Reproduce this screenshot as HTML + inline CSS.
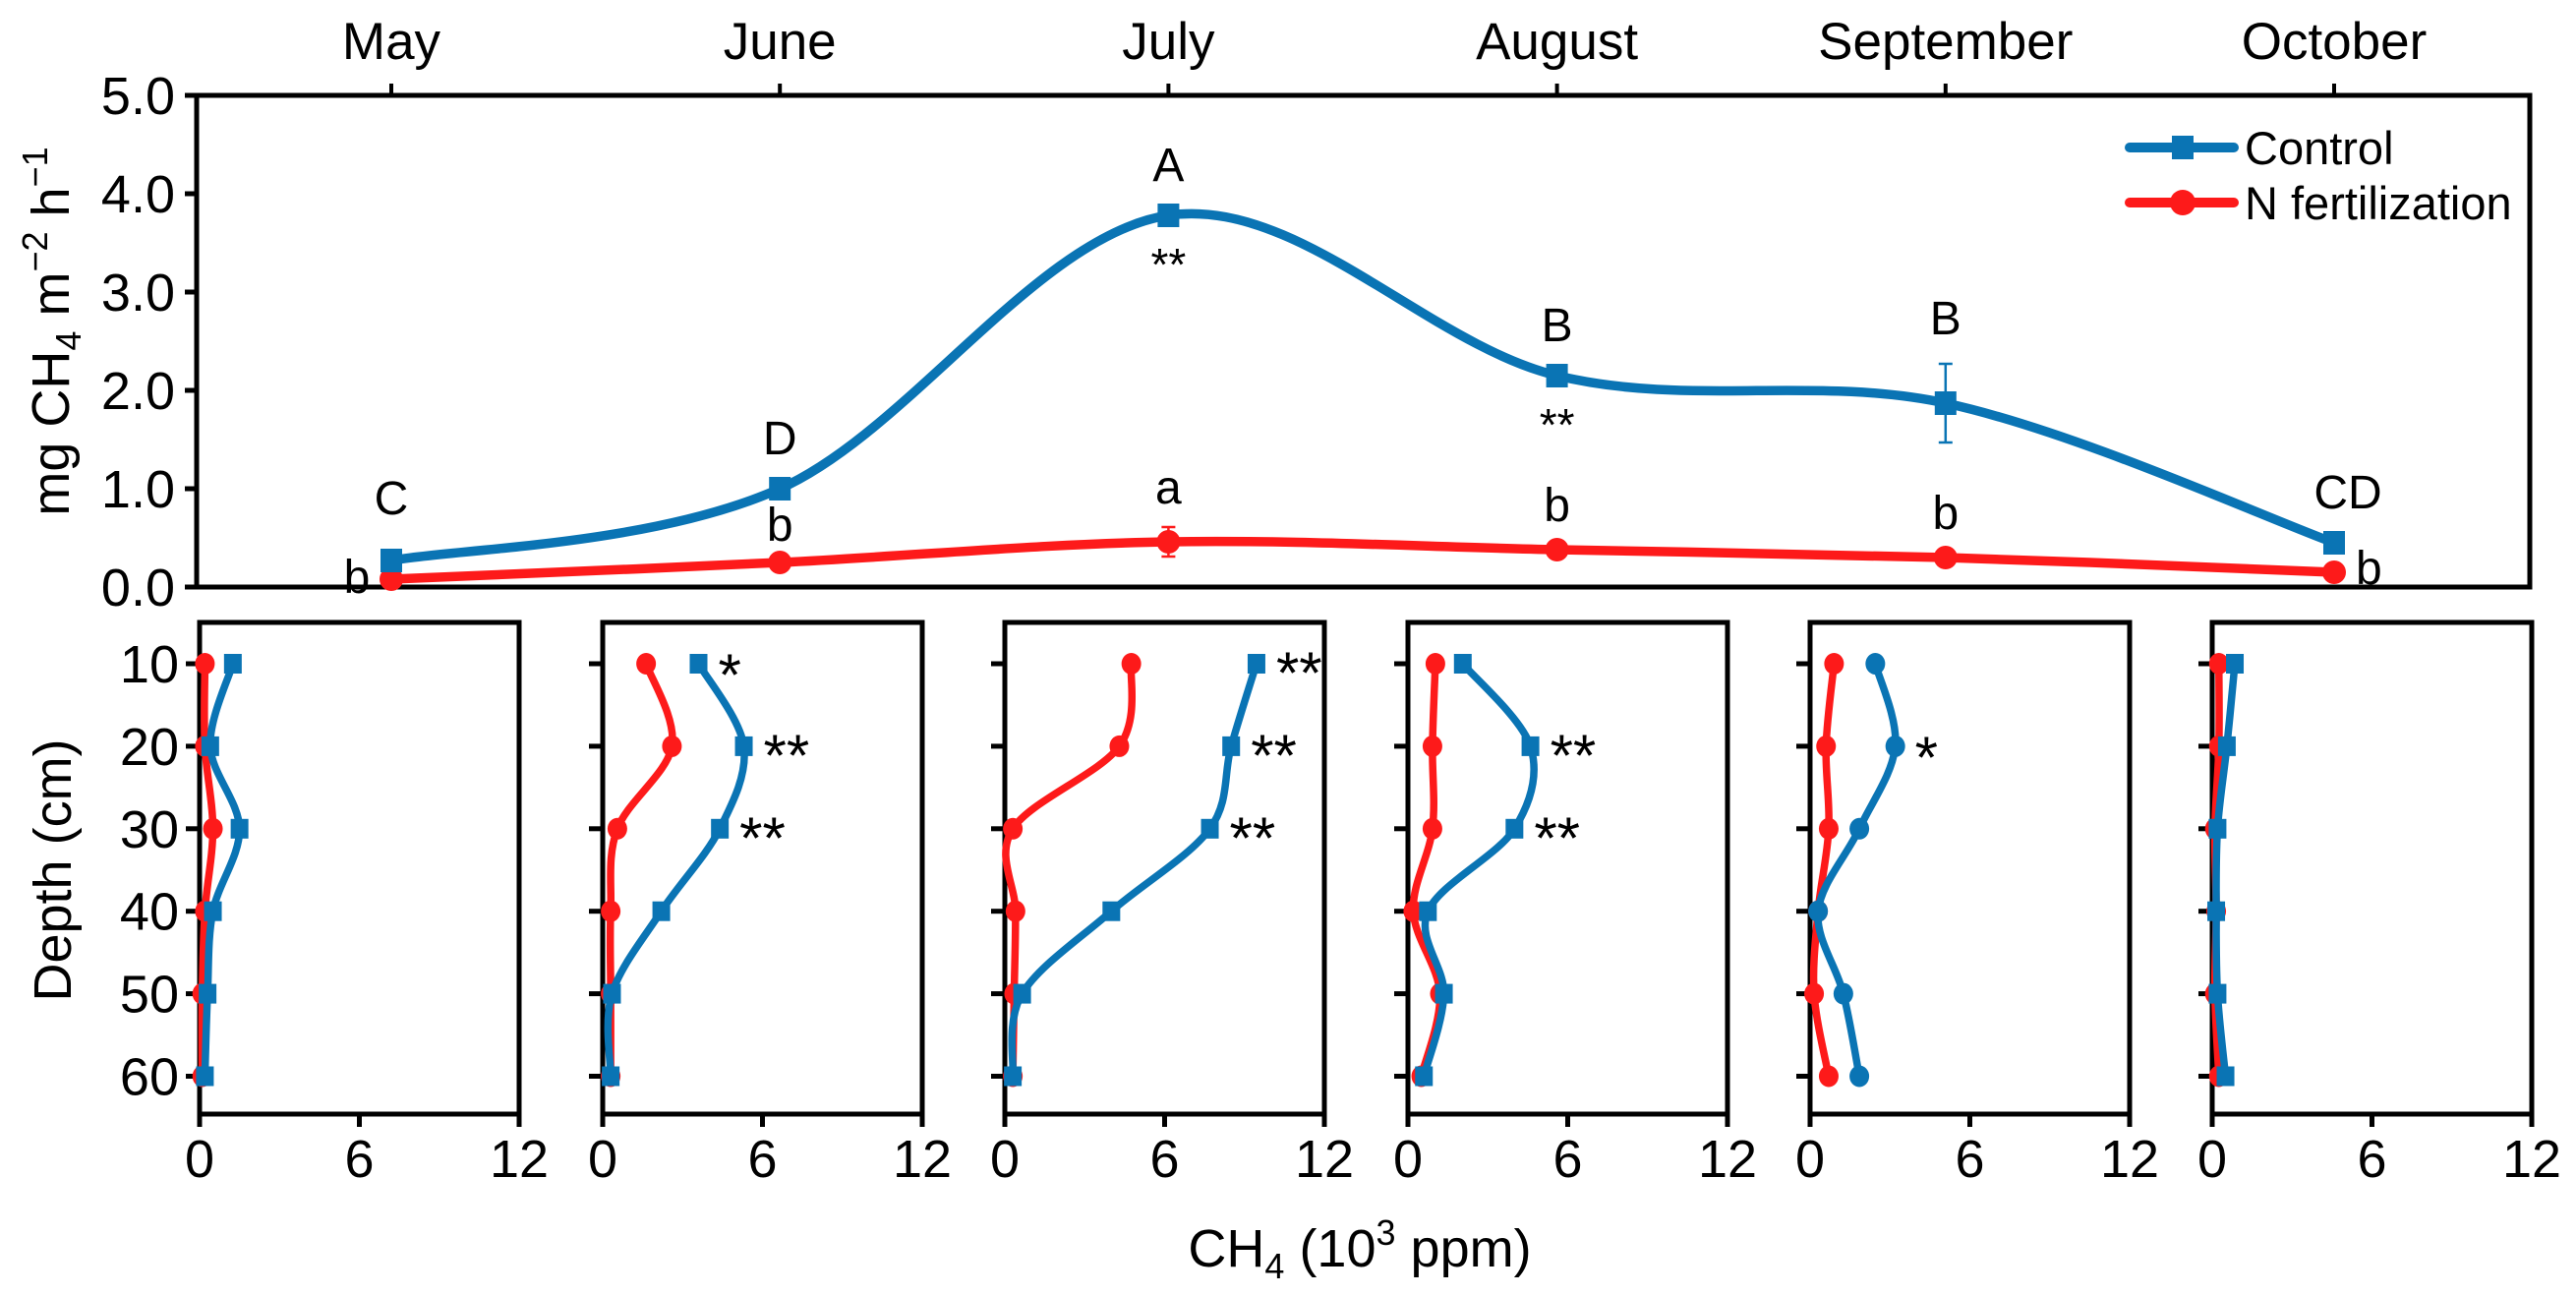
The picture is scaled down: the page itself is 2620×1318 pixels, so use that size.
<!DOCTYPE html>
<html><head><meta charset="utf-8">
<style>
html,body{margin:0;padding:0;background:#fff;}
svg{display:block;font-family:"Liberation Sans",Arial,sans-serif;}
</style></head>
<body>
<svg id="chart" width="2620" height="1318" viewBox="0 0 2620 1318" xmlns="http://www.w3.org/2000/svg"></svg>
<script>
// ---------- data ----------
const months = ["May","June","July","August","September","October"];
const fluxControl = [0.27, 1.0, 3.78, 2.15, 1.87, 0.45];
const fluxN = [0.08, 0.25, 0.46, 0.38, 0.30, 0.15];
const fluxControlErr = [0.03, 0.05, 0.05, 0.05, 0.40, 0.03];
const fluxNErr = [0.02, 0.05, 0.15, 0.03, 0.03, 0.02];
const lettersControl = ["C","D","A","B","B","CD"];
const lettersN = ["b","b","a","b","b","b"];
const sigFlux = ["","","**","**","",""];
const fluxTicks = ["0.0","1.0","2.0","3.0","4.0","5.0"];
const depths = [10,20,30,40,50,60];
const depthTicks = ["10","20","30","40","50","60"];
const concTicks = ["0","6","12"];
const profControl = [
  [1.25,0.4,1.5,0.5,0.3,0.2],
  [3.6,5.3,4.4,2.2,0.35,0.3],
  [9.45,8.5,7.7,4.0,0.65,0.3],
  [2.06,4.6,4.0,0.75,1.35,0.6],
  [2.45,3.2,1.85,0.3,1.25,1.85],
  [0.85,0.55,0.2,0.15,0.2,0.5]
];
const profN = [
  [0.2,0.2,0.5,0.2,0.1,0.1],
  [1.63,2.6,0.55,0.3,0.3,0.3],
  [4.75,4.3,0.3,0.4,0.35,0.3],
  [1.03,0.92,0.92,0.2,1.2,0.5],
  [0.9,0.6,0.7,0.3,0.15,0.7],
  [0.25,0.25,0.1,0.15,0.1,0.25]
];
const profSig = [
  ["","","","","",""],
  ["*","**","**","","",""],
  ["**","**","**","","",""],
  ["","**","**","","",""],
  ["","*","","","",""],
  ["","","","","",""]
];
// ---------- helpers ----------
const NS="http://www.w3.org/2000/svg";
const svg=document.getElementById('chart');
function mk(tag,attrs,parent){const e=document.createElementNS(NS,tag);for(const k in attrs)e.setAttribute(k,attrs[k]);(parent||svg).appendChild(e);return e;}
function txt(s,attrs,parent){const e=mk('text',attrs,parent);e.textContent=s;return e;}
function catmull(pts){let d=`M${pts[0][0]},${pts[0][1]}`;for(let i=0;i<pts.length-1;i++){const p0=pts[i-1]||pts[i],p1=pts[i],p2=pts[i+1],p3=pts[i+2]||p2;const c1=[p1[0]+(p2[0]-p0[0])/6,p1[1]+(p2[1]-p0[1])/6];const c2=[p2[0]-(p3[0]-p1[0])/6,p2[1]-(p3[1]-p1[1])/6];d+=` C${c1[0]},${c1[1]} ${c2[0]},${c2[1]} ${p2[0]},${p2[1]}`;}return d;}
const BLUE="#0a74b4",RED="#fd1a1a",FS=54;

// ---------- top panel ----------
const TL=200,TR=2573,TT=97,TB=597;
const mx=i=>398+i*395.2;
const fy=v=>TB-(v/5)*(TB-TT);
const topG=mk('g',{});


const fr=mk('rect',{x:TL,y:TT,width:TR-TL,height:TB-TT,fill:'none',stroke:'#000','stroke-width':5},topG);


fluxTicks.forEach((t,i)=>{const y=fy(+t);mk('line',{x1:TL-12,x2:TL,y1:y,y2:y,stroke:'#000','stroke-width':5},topG);
 const l=txt(t,{x:178,y:y+19,'text-anchor':'end','font-size':FS},topG);
 
 });
months.forEach((m,i)=>{const x=mx(i);mk('line',{x1:x,x2:x,y1:TT-12,y2:TT,stroke:'#000','stroke-width':4},topG);
 const l=txt(m,{x:x,y:60,'text-anchor':'middle','font-size':53},topG);
 
 });
const yt=txt('',{transform:`translate(70,${(TT+TB)/2-10}) rotate(-90)`,'text-anchor':'middle','font-size':FS},topG);


yt.innerHTML='mg CH<tspan font-size="36" dy="12">4</tspan><tspan dy="-12"> m</tspan><tspan font-size="36" dy="-22">−2</tspan><tspan dy="22"> h</tspan><tspan font-size="36" dy="-22">−1</tspan>';
function drawSeries(vals,errs,color,shape,name){
 const g=mk('g',{},topG);
 
 
 vals.forEach((v,i)=>{const x=mx(i);if(errs[i]>0.06){mk('line',{x1:x,x2:x,y1:fy(v-errs[i]),y2:fy(v+errs[i]),stroke:color,'stroke-width':2.5},g);
  [v-errs[i],v+errs[i]].forEach(e=>mk('line',{x1:x-7,x2:x+7,y1:fy(e),y2:fy(e),stroke:color,'stroke-width':2.5},g));}});
 const p=mk('path',{d:catmull(vals.map((v,i)=>[mx(i),fy(v)])),fill:'none',stroke:color,'stroke-width':9.5,'stroke-linecap':'round'},g);
 
 
 vals.forEach((v,i)=>{let m;if(shape==='sq')m=mk('rect',{x:mx(i)-11,y:fy(v)-12,width:22,height:24,fill:color},g);else m=mk('circle',{cx:mx(i),cy:fy(v),r:12,fill:color},g);
  
  });
}
drawSeries(fluxN,fluxNErr,RED,'ci','n-fertilization-series');
drawSeries(fluxControl,fluxControlErr,BLUE,'sq','control-series');
lettersControl.forEach((s,i)=>{const v=fluxControl[i]+Math.max(fluxControlErr[i],0.05);let x=mx(i),y=fy(v)-30;if(i===5)x+=14;if(i===0)y-=12;
 const l=txt(s,{x:x,y:y,'text-anchor':'middle','font-size':48},topG);
 
 });
lettersN.forEach((s,i)=>{let x=mx(i),y=fy(fluxN[i]+Math.max(fluxNErr[i],0.05))-24,a='middle';
 if(i===0){x=mx(i)-35;y=fy(fluxN[i])+14;} if(i===5){x=mx(i)+22;y=fy(fluxN[i])+12;a='start';}
 if(i===1){y=fy(fluxN[i])-22;}
 const l=txt(s,{x:x,y:y,'text-anchor':a,'font-size':48},topG);
 
 });
sigFlux.forEach((s,i)=>{if(!s)return;const l=txt(s,{x:mx(i),y:fy(fluxControl[i])+66,'text-anchor':'middle','font-size':46},topG);
 
 });
// legend
const lg=mk('g',{},topG);


[[BLUE,'sq','Control',150],[RED,'ci','N fertilization',206]].forEach(([c,s,t,y])=>{
 const e=mk('g',{},lg);
 
 
 mk('line',{x1:2166,x2:2272,y1:y,y2:y,stroke:c,'stroke-width':10,'stroke-linecap':'round'},e);
 if(s==='sq')mk('rect',{x:2209,y:y-12,width:22,height:24,fill:c},e);else mk('circle',{cx:2220,cy:y,r:13,fill:c},e);
 txt(t,{x:2283,y:y+17,'font-size':47},e);});

// ---------- bottom panels ----------
const BT=633,BB=1133,PW=325;
const px=[203,613,1022,1432,1841,2250];
const dy=d=>675+(d-10)*8.39;
for(let p=0;p<6;p++){
 const g=mk('g',{});
 
 
 const L=px[p];const cx=v=>L+v/12*PW;
 const r=mk('rect',{x:L,y:BT,width:PW,height:BB-BT,fill:'none',stroke:'#000','stroke-width':5},g);
 
 
 depths.forEach((d,i)=>{mk('line',{x1:L-14,x2:L,y1:dy(d),y2:dy(d),stroke:'#000','stroke-width':5},g);
  if(p===0){const l=txt(depthTicks[i],{x:182,y:dy(d)+19,'text-anchor':'end','font-size':FS},g);
   
   }});
 concTicks.forEach(t=>{const x=cx(+t);mk('line',{x1:x,x2:x,y1:BB,y2:BB+13,stroke:'#000','stroke-width':5},g);
  const l=txt(t,{x:x,y:1197,'text-anchor':'middle','font-size':FS},g);
  
  });
 const ctrlShape=(p===4)?'ci':'sq';
 [[profN[p],RED,'ci','n-fertilization'],[profControl[p],BLUE,ctrlShape,'control']].forEach(([vals,c,s,n])=>{
  const path=mk('path',{d:catmull(vals.map((v,i)=>[cx(v),dy(depths[i])])),fill:'none',stroke:c,'stroke-width':7.5,'stroke-linecap':'round'},g);
  
  
  vals.forEach((v,i)=>{let m;if(s==='sq')m=mk('rect',{x:cx(v)-9,y:dy(depths[i])-10,width:18,height:20,fill:c},g);else m=mk('ellipse',{cx:cx(v),cy:dy(depths[i]),rx:10,ry:11,fill:c},g);
   
   });
 });
 profSig[p].forEach((s,i)=>{if(!s)return;const l=txt(s,{x:cx(profControl[p][i])+20,y:dy(depths[i])+(s==='*'?32:30),'font-size':60},g);
  
  });
}
const dt=txt('Depth (cm)',{transform:`translate(72,885) rotate(-90)`,'text-anchor':'middle','font-size':FS},svg);


const xt=txt('',{x:1383,y:1288,'text-anchor':'middle','font-size':FS},svg);


xt.innerHTML='CH<tspan font-size="36" dy="12">4</tspan><tspan dy="-12"> (10</tspan><tspan font-size="36" dy="-22">3</tspan><tspan dy="22"> ppm)</tspan>';
</script>
</body></html>
